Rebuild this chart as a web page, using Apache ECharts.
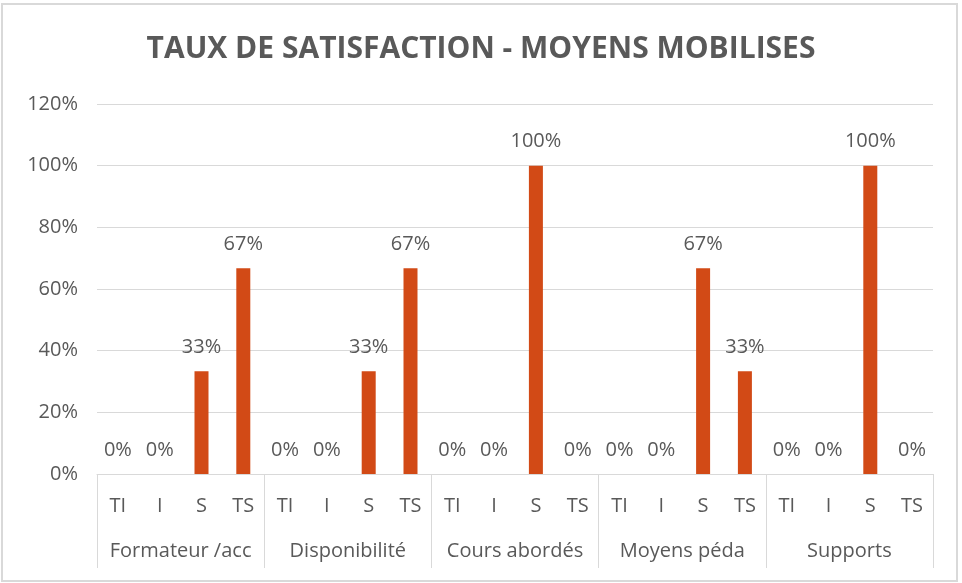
<!DOCTYPE html>
<html>
<head>
<meta charset="utf-8">
<title>Taux de satisfaction - moyens mobilises</title>
<script src="https://cdn.jsdelivr.net/npm/echarts@6/dist/echarts.min.js"></script>
<style>
	html, body { margin: 0; padding: 0; background: #fff; }
	#chart { width: 962px; height: 583px; }
</style>
</head>
<body>
<div id="chart"></div>
<script>
// données du graphique
const groups = ['Formateur /acc', 'Disponibilité', 'Cours abordés', 'Moyens péda', 'Supports'];
const levels = ['TI', 'I', 'S', 'TS'];
const formateur = [0, 0, 33.3, 66.7];
const disponibilite = [0, 0, 33.3, 66.7];
const cours = [0, 0, 100, 0];
const moyens = [0, 0, 66.7, 33.3];
const supports = [0, 0, 100, 0];
const yTicks = [0, 20, 40, 60, 80, 100, 120];

// construction des catégories (niveau x groupe)
const subCategories = [];
groups.forEach(() => levels.forEach((l) => subCategories.push(l)));
const values = [].concat(formateur, disponibilite, cours, moyens, supports);

const textColor = '#595959';
const gridColor = '#d9d9d9';
const font = 'Open Sans';

const myChart = echarts.init(document.getElementById('chart'));
const option = {
	backgroundColor: '#fff',
	animation: false,
	title: {
		text: 'TAUX DE SATISFACTION - MOYENS MOBILISES',
		left: 'center',
		top: 29,
		textStyle: {
			color: textColor,
			fontFamily: font,
			fontWeight: 'bold',
			fontSize: 30,
		},
	},
	graphic: [
		{
			type: 'rect',
			shape: { x: 2, y: 4, width: 955, height: 577 },
			style: { fill: 'none', stroke: gridColor, lineWidth: 2 },
			silent: true,
		},
	],
	grid: {
		left: 97,
		right: 29,
		top: 104,
		bottom: 109,
	},
	xAxis: [
		{
			type: 'category',
			data: subCategories,
			position: 'bottom',
			axisLine: { show: true, lineStyle: { color: gridColor, width: 1 } },
			axisTick: { show: false },
			axisLabel: {
				color: textColor,
				fontFamily: font,
				fontSize: 20,
				margin: 22,
				interval: 0,
			},
		},
		{
			type: 'category',
			data: groups,
			position: 'bottom',
			axisLine: { show: false },
			axisTick: {
				show: true,
				length: 94,
				lineStyle: { color: gridColor, width: 1 },
			},
			axisLabel: {
				color: textColor,
				fontFamily: font,
				fontSize: 20,
				margin: 67,
				interval: 0,
			},
		},
	],
	yAxis: {
		type: 'value',
		min: yTicks[0],
		max: yTicks[yTicks.length - 1],
		interval: 20,
		axisLine: { show: false },
		axisTick: { show: false },
		splitLine: { lineStyle: { color: gridColor, width: 1 } },
		axisLabel: {
			color: textColor,
			fontFamily: font,
			fontSize: 20,
			margin: 19,
			formatter: '{value}%',
		},
	},
	series: [
		{
			type: 'bar',
			xAxisIndex: 0,
			data: values,
			barWidth: 14,
			itemStyle: { color: '#d24a16' },
			label: {
				show: true,
				position: 'top',
				distance: 14,
				color: textColor,
				fontFamily: font,
				fontSize: 20,
				formatter: (p) => Math.round(p.value) + '%',
			},
		},
	],
};
myChart.setOption(option);
</script>
</body>
</html>
